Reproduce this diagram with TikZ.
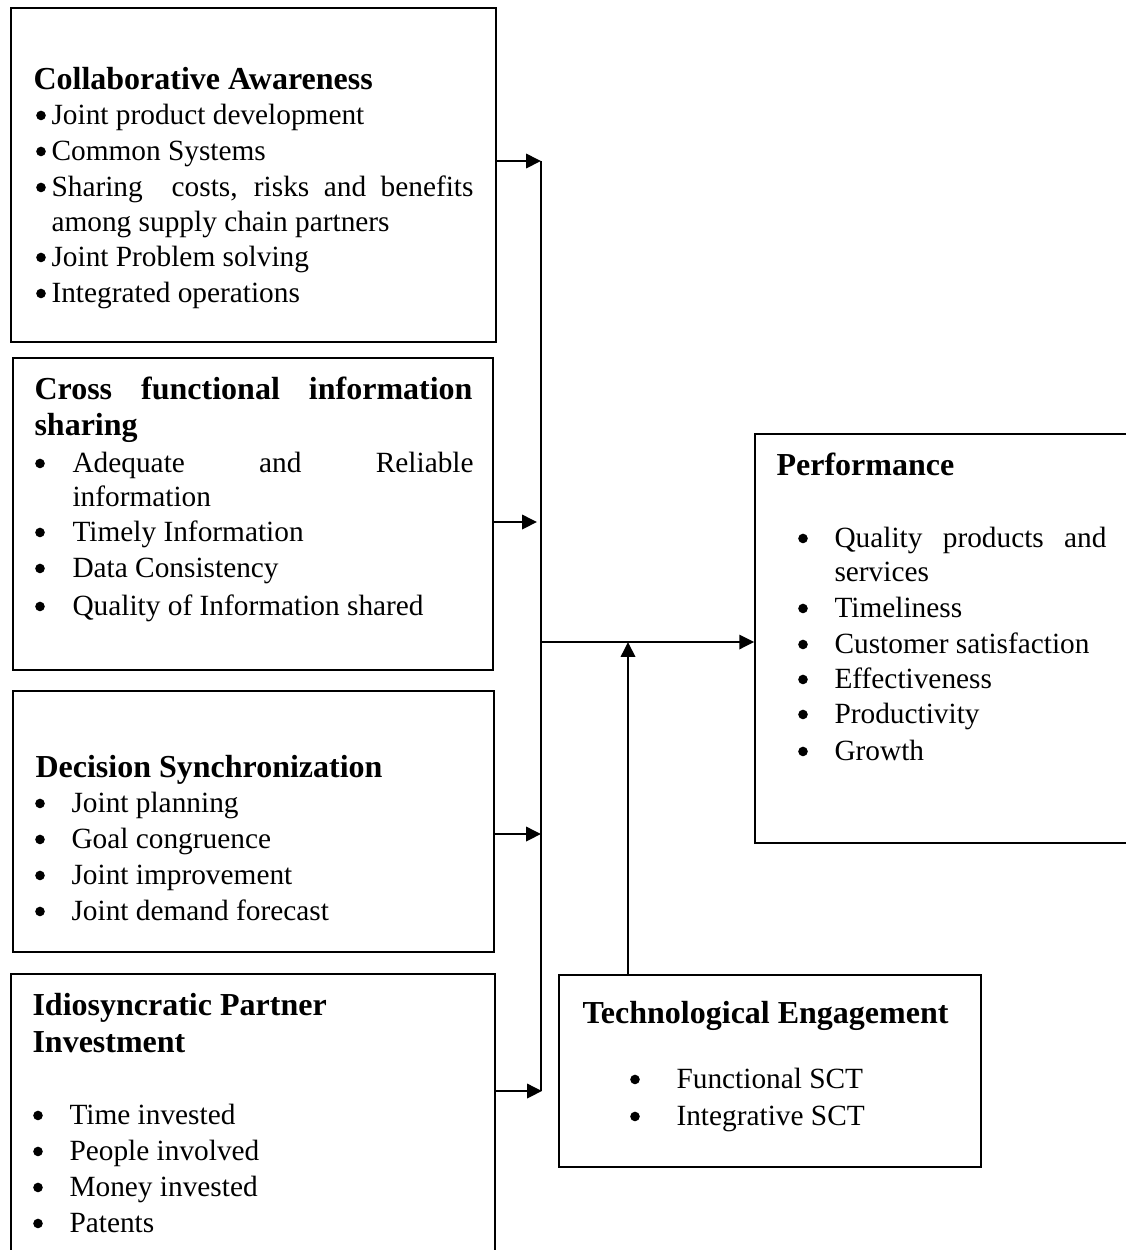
\documentclass[tikz,border=0pt]{standalone}
\usepackage{fontspec}
\setmainfont{Liberation Serif}
\usetikzlibrary{arrows.meta,fit}
\newcommand{\bitem}[5]{%
  \node[bul] (#1b) at (#2,#4) {};
  \node[txt] (#1) at (#3,#4) {#5};}
\begin{document}
\begin{tikzpicture}[x=0.375pt,y=-0.375pt,
  box/.style={draw, line width=0.6pt, inner sep=0pt},
  conn/.style={line width=0.8pt},
  arr/.style={conn, -{Triangle[length=5.6pt,width=5.4pt]}},
  txt/.style={anchor=base west, inner sep=0pt, font=\fontsize{11pt}{13pt}\selectfont},
  ttl/.style={anchor=base west, inner sep=0pt, font=\fontsize{12pt}{14pt}\selectfont\bfseries},
  bul/.style={circle, fill, inner sep=0pt, minimum size=3.6pt, yshift=3.2pt}]
\useasboundingbox (0,0) rectangle (1126,1250);

% boxes
\node[box, fit={(11,8) (496,342)}] (ca) {};
\node[box, fit={(13,358) (493,670)}] (cf) {};
\node[box, fit={(13,691) (494,952)}] (ds) {};
\node[box, fit={(11,974) (495,1275)}] (ip) {};
\node[box, fit={(755,434) (1140,843)}] (pf) {};
\node[box, fit={(559,975) (981,1167)}] (te) {};

% connectors
\coordinate (b1) at (541,161);
\coordinate (b2) at (537,522);
\coordinate (b3) at (541,834);
\coordinate (b4) at (542,1091);
\coordinate (hub) at (541,642);
\coordinate (up) at (628,642);
\draw[conn] (b1) -- (b1 |- b4);
\draw[arr] (ca.east |- b1) -- (b1);
\draw[arr] (cf.east |- b2) -- (b2);
\draw[arr] (ds.east |- b3) -- (b3);
\draw[arr] (ip.east |- b4) -- (b4);
\draw[arr] (hub) -- (pf.west |- hub);
\draw[arr] (te.north -| up) -- (up);

% Collaborative Awareness
\node[ttl] (cat) at (33,89) {Collaborative Awareness};
\bitem{ca1}{41}{51}{124}{Joint product development}
\bitem{ca2}{41}{51}{160}{Common Systems}
\bitem{ca3}{41}{51}{196}{\makebox[158.25pt][s]{Sharing\ \ costs, risks and benefits}}
\node[txt] (ca3b) at (51,231) {among supply chain partners};
\bitem{ca4}{41}{51}{266}{Joint Problem solving}
\bitem{ca5}{41}{51}{302}{Integrated operations}

% Cross functional information sharing
\node[ttl] (cft) at (34,399) {\makebox[164.25pt][s]{Cross functional information}};
\node[ttl] (cft2) at (34,435) {sharing};
\bitem{cf1}{40}{72}{472}{\makebox[150.4pt][s]{Adequate and Reliable}}
\node[txt] (cf1c) at (72,506) {information};
\bitem{cf2}{40}{72}{541}{Timely Information}
\bitem{cf3}{40}{72}{577}{Data Consistency}
\bitem{cf4}{40}{72}{615}{Quality of Information shared}

% Decision Synchronization
\node[ttl] (dst) at (35,777) {Decision Synchronization};
\bitem{ds1}{40}{71}{812}{Joint planning}
\bitem{ds2}{40}{71}{848}{Goal congruence}
\bitem{ds3}{40}{71}{884}{Joint improvement}
\bitem{ds4}{40}{71}{920}{Joint demand forecast}

% Idiosyncratic Partner Investment
\node[ttl] (ipt) at (32,1015) {Idiosyncratic Partner};
\node[ttl] (ipt2) at (32,1052) {Investment};
\bitem{ip1}{38}{69}{1124}{Time invested}
\bitem{ip2}{38}{69}{1160}{People involved}
\bitem{ip3}{38}{69}{1196}{Money invested}
\bitem{ip4}{38}{69}{1232}{Patents}

% Performance
\node[ttl] (pft) at (776,475) {Performance};
\bitem{pf1}{803}{834}{547}{\makebox[102pt][s]{Quality products and}}
\node[txt] (pf1c) at (834,581) {services};
\bitem{pf2}{803}{834}{617}{Timeliness}
\bitem{pf3}{803}{834}{653}{Customer satisfaction}
\bitem{pf4}{803}{834}{688}{Effectiveness}
\bitem{pf5}{803}{834}{723}{Productivity}
\bitem{pf6}{803}{834}{760}{Growth}

% Technological Engagement
\node[ttl] (tet) at (582,1023) {Technological Engagement};
\bitem{te1}{635}{676}{1088}{Functional SCT}
\bitem{te2}{635}{676}{1125}{Integrative SCT}
\end{tikzpicture}
\end{document}
